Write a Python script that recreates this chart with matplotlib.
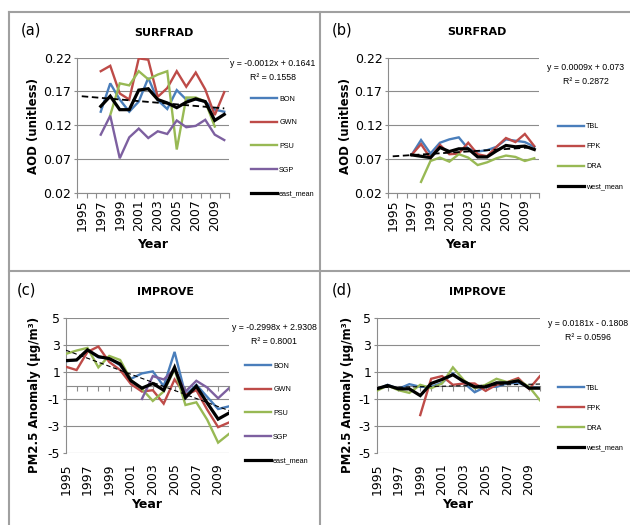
import numpy as np
import matplotlib
matplotlib.use('Agg')
import matplotlib.pyplot as plt
from matplotlib.lines import Line2D

plt.rcParams['axes.unicode_minus'] = False
plt.rcParams['font.family'] = 'DejaVu Sans'

W, H = 630, 525
nan = np.nan

years = list(range(1995, 2011))
label_years = list(range(1995, 2010, 2))

# (a) SURFRAD east sites, AOD
bon_a = [nan, nan, 0.140, 0.182, 0.158, 0.140, 0.155, 0.190, 0.157, 0.144, 0.172, 0.158, 0.158, 0.155, 0.143, 0.140]
gwn_a = [nan, nan, 0.200, 0.208, 0.167, 0.158, 0.219, 0.217, 0.162, 0.175, 0.200, 0.177, 0.198, 0.173, 0.135, 0.169]
psu_a = [nan, nan, nan, 0.135, 0.182, 0.179, 0.200, 0.188, 0.195, 0.200, 0.084, 0.161, 0.161, 0.155, 0.118, nan]
sgp_a = [nan, nan, 0.106, 0.134, 0.071, 0.102, 0.115, 0.101, 0.111, 0.107, 0.127, 0.117, 0.119, 0.128, 0.106, 0.098]
east_a = [nan, nan, 0.148, 0.163, 0.143, 0.143, 0.172, 0.174, 0.158, 0.153, 0.146, 0.154, 0.159, 0.155, 0.127, 0.136]
trend_a = [-0.0012, 0.1641]
r2_a = '0.1558'

# (b) SURFRAD west sites, AOD
tbl_b = [nan, nan, 0.076, 0.098, 0.078, 0.094, 0.099, 0.102, 0.085, 0.081, 0.083, 0.088, 0.099, 0.097, 0.095, 0.088]
fpk_b = [nan, nan, 0.076, 0.092, 0.071, 0.091, 0.077, 0.078, 0.094, 0.077, 0.074, 0.088, 0.101, 0.095, 0.107, 0.089]
dra_b = [nan, nan, nan, 0.036, 0.067, 0.072, 0.066, 0.077, 0.072, 0.061, 0.065, 0.071, 0.075, 0.073, 0.067, 0.071]
west_b = [nan, nan, 0.076, 0.074, 0.072, 0.087, 0.081, 0.085, 0.085, 0.073, 0.073, 0.082, 0.090, 0.088, 0.089, 0.084]
trend_b = [0.0009, 0.073]
r2_b = '0.2872'

# (c) IMPROVE east sites, PM2.5 anomaly
bon_c = [1.8, 1.9, 2.6, 2.1, 2.0, 1.5, 0.5, 0.9, 1.05, -0.05, 2.5, -0.7, 0.05, -0.85, -1.75, -1.55]
gwn_c = [1.4, 1.15, 2.5, 2.9, 1.75, 1.15, 0.1, -0.45, -0.35, -1.35, 0.45, -0.7, -0.35, -1.8, -3.1, -2.75]
psu_c = [2.35, 2.6, 2.8, 1.35, 2.2, 1.9, 0.4, -0.25, -1.15, -0.45, 1.2, -1.45, -1.25, -2.55, -4.25, -3.6]
sgp_c = [nan, nan, nan, nan, nan, nan, nan, -1.0, 0.7, 0.45, 1.2, -0.45, 0.35, -0.15, -0.95, -0.2]
east_c = [1.85, 1.9, 2.65, 2.15, 2.0, 1.6, 0.35, -0.2, 0.15, -0.35, 1.35, -0.9, -0.05, -1.3, -2.5, -2.05]
trend_c = [-0.2998, 2.9308]
r2_c = '0.8001'

# (d) IMPROVE west sites, PM2.5 anomaly
tbl_d = [-0.3, 0.05, -0.25, 0.1, -0.1, -0.1, 0.2, 0.9, 0.2, -0.5, -0.1, -0.1, 0.15, 0.2, -0.1, -0.2]
fpk_d = [nan, nan, nan, nan, -2.2, 0.5, 0.7, 0.05, 0.15, 0.15, -0.4, 0.05, 0.25, 0.55, -0.25, 0.7]
dra_d = [-0.4, 0.0, -0.35, -0.55, 0.05, -0.2, 0.15, 1.35, 0.4, -0.2, 0.05, 0.5, 0.25, 0.4, -0.1, -1.1]
west_d = [-0.25, 0.0, -0.25, -0.25, -0.75, 0.15, 0.45, 0.8, 0.3, -0.1, -0.1, 0.2, 0.2, 0.35, -0.2, -0.2]
trend_d = [0.0181, -0.1808]
r2_d = '0.0596'

BLUE, RED, GREEN, PURPLE = '#4A7EBB', '#BE4B48', '#98B954', '#7D60A0'
GRID = '#8C8C8C'


def px(x, y):
    return x / W, 1 - y / H


def eq_text(slope, icpt):
    sign = '+' if icpt >= 0 else '-'
    return 'y = %gx %s %g' % (slope, sign, abs(icpt))


fig = plt.figure(figsize=(6.3, 5.25), dpi=100)

# panel frame lines
frame_kw = dict(color='#A0A0A0', lw=1.5, transform=fig.transFigure)
fig.add_artist(Line2D([9 / W, 1], [1 - 12 / H] * 2, **frame_kw))
fig.add_artist(Line2D([9 / W] * 2, [0, 1 - 12 / H], **frame_kw))
fig.add_artist(Line2D([320 / W] * 2, [0, 1 - 12 / H], **frame_kw))
fig.add_artist(Line2D([9 / W, 1], [1 - 271 / H] * 2, **frame_kw))


def panel(box, series, names, trend, r2, aod, spec):
    l, t, r, b = box
    ax = fig.add_axes([l / W, 1 - b / H, (r - l) / W, (b - t) / H])
    x = np.array(years, dtype=float)
    idx = np.arange(1, len(years) + 1)
    colors = [BLUE, RED, GREEN, PURPLE][:len(series) - 1] + ['black']
    handles = []
    for vals, c in zip(series, colors):
        lw = 2.3 if c == 'black' else 1.7
        h, = ax.plot(x, np.array(vals, dtype=float), color=c, lw=lw,
                     solid_joinstyle='miter', zorder=3)
        handles.append(h)
    ty = trend[0] * idx + trend[1]
    if aod:
        ax.plot(x, ty, color='black', lw=1.3, dashes=(3.6, 2.0), zorder=4)
    else:
        ax.plot(x, ty, color='black', lw=0.8, dashes=(4.0, 2.5), zorder=4)

    for s in ['top', 'right']:
        ax.spines[s].set_visible(False)
    for s in ['left', 'bottom']:
        ax.spines[s].set_color(GRID)
        ax.spines[s].set_linewidth(0.8)

    if aod:
        yt = [0.02, 0.07, 0.12, 0.17, 0.22]
        ax.set_ylim(0.02, 0.22)
        ax.set_yticks(yt)
        ax.set_yticklabels(['%.2f' % v for v in yt])
        ax.set_xlim(1994.5, 2010.5)
        ax.set_xticks(np.arange(1994.5, 2011, 1.0))
        ax.set_xticklabels([])
        ax.set_xticks(label_years, minor=True)
        ax.set_xticklabels([str(v) for v in label_years], minor=True, rotation=90)
        ax.tick_params(axis='x', which='major', length=3.5, width=0.8, color=GRID, direction='out')
        ax.tick_params(axis='x', which='minor', length=0, pad=4.5, labelsize=9)
    else:
        yt = [-5, -3, -1, 1, 3, 5]
        ax.set_ylim(-5, 5)
        ax.set_yticks(yt)
        ax.set_yticklabels([str(v) for v in yt])
        ax.set_xlim(1995, 2010)
        ax.spines['bottom'].set_position(('data', 0))
        ax.set_xticks(years)
        ax.set_xticklabels([])
        ax.tick_params(axis='x', length=3.5, width=0.8, color=GRID, direction='out')
        sec = ax.secondary_xaxis(0)
        sec.set_xticks(label_years)
        sec.set_xticklabels([str(v) for v in label_years], rotation=90)
        sec.spines['bottom'].set_visible(False)
        sec.tick_params(length=0, pad=7.5, labelsize=9)
    ax.tick_params(axis='y', length=2.5, width=0.8, color=GRID, pad=1.5, labelsize=9)
    ax.grid(axis='y', color=GRID, lw=0.8)
    ax.set_axisbelow(True)

    # texts placed in pixel coordinates
    fig.text(*px(*spec['letter']), spec['letter_txt'], fontsize=10.5, va='center', ha='left')
    fig.text(*px(*spec['title']), spec['title_txt'], fontsize=8, fontweight='bold', ha='center', va='center')
    fig.text(*px(*spec['xlab']), 'Year', fontsize=9, fontweight='bold', ha='center', va='center')
    ylab = 'AOD (unitless)' if aod else 'PM2.5 Anomaly (\u03bcg/m\u00b3)'
    fig.text(*px(*spec['ylab']), ylab, fontsize=8.5, fontweight='bold', rotation=90,
             ha='center', va='center')
    ex, ey = spec['eq']
    fig.text(*px(ex, ey), eq_text(*trend), fontsize=6.3, family='Liberation Sans',
             ha='center', va='center')
    fig.text(*px(ex, ey + spec['eq_gap']), 'R\u00b2 = ' + r2, fontsize=6.3,
             family='Liberation Sans', ha='center', va='center')

    ax.legend(handles, names, loc='upper left', bbox_to_anchor=px(*spec['leg']),
              bbox_transform=fig.transFigure, frameon=False,
              prop={'family': 'Liberation Sans', 'size': 5.2},
              handlelength=3.6, handletextpad=0.3, borderpad=0, borderaxespad=0,
              labelspacing=spec['legsp'])
    return ax


panel((77, 57.7, 229, 192.7), [bon_a, gwn_a, psu_a, sgp_a, east_a],
      ['BON', 'GWN', 'PSU', 'SGP', 'east_mean'], trend_a, r2_a, True,
      dict(letter=(21, 30), letter_txt='(a)', title=(164, 33), title_txt='SURFRAD',
           xlab=(153, 245), ylab=(33, 126), eq=(273, 63), eq_gap=14,
           leg=(251, 95.5), legsp=2.3))

panel((388, 57.7, 539, 192.7), [tbl_b, fpk_b, dra_b, west_b],
      ['TBL', 'FPK', 'DRA', 'west_mean'], trend_b, r2_b, True,
      dict(letter=(332, 30), letter_txt='(b)', title=(477, 32), title_txt='SURFRAD',
           xlab=(461, 245), ylab=(345, 126), eq=(586, 67), eq_gap=14,
           leg=(558, 123), legsp=1.8))

panel((65.7, 318.3, 229, 452.7), [bon_c, gwn_c, psu_c, sgp_c, east_c],
      ['BON', 'GWN', 'PSU', 'SGP', 'east_mean'], trend_c, r2_c, False,
      dict(letter=(17, 290), letter_txt='(c)', title=(165, 292), title_txt='IMPROVE',
           xlab=(147, 505), ylab=(35, 395), eq=(274, 328), eq_gap=13,
           leg=(245, 362.5), legsp=2.3))

panel((376.7, 318.3, 540, 452.7), [tbl_d, fpk_d, dra_d, west_d],
      ['TBL', 'FPK', 'DRA', 'west_mean'], trend_d, r2_d, False,
      dict(letter=(332, 290), letter_txt='(d)', title=(477, 292), title_txt='IMPROVE',
           xlab=(458, 505), ylab=(347, 395), eq=(588, 324), eq_gap=13,
           leg=(558, 384.5), legsp=1.8))

fig.savefig('out.png', dpi=100)
